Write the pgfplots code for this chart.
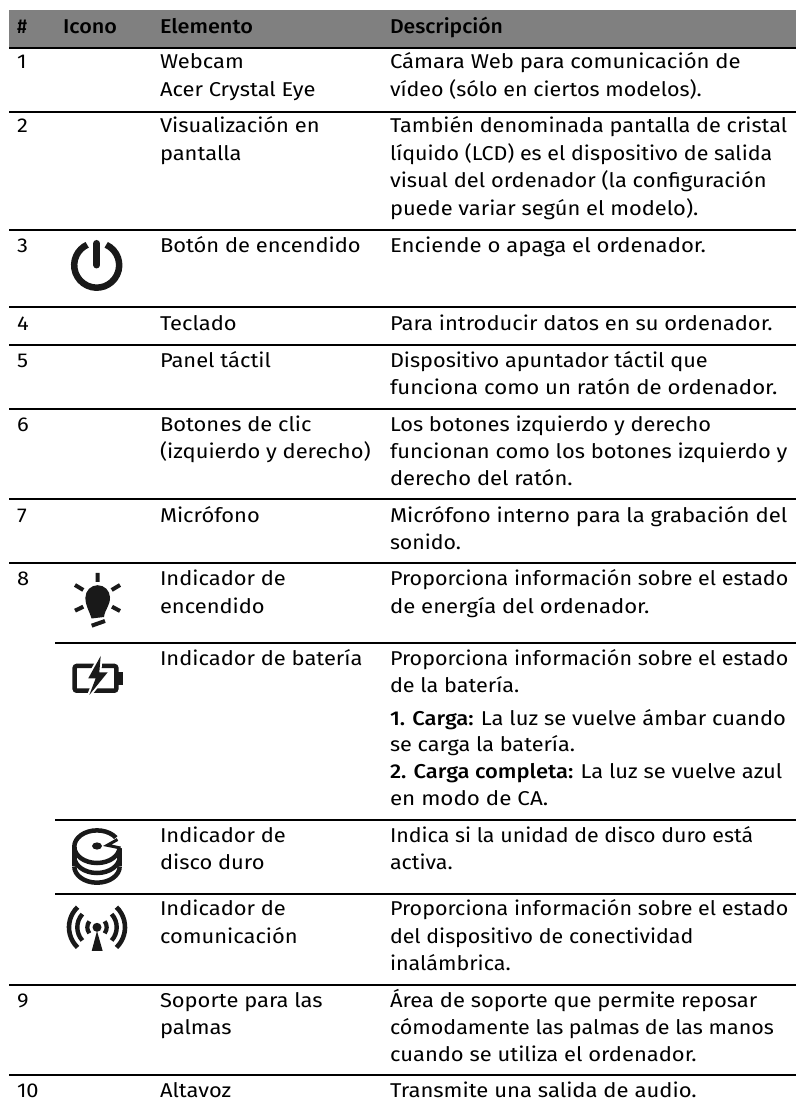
\documentclass[border=0pt]{standalone}
\usepackage{graphicx}
\usepackage{pgfplots}
\pgfplotsset{compat=1.18}
\usepackage{fontspec}
\setmainfont{Fira Sans}[BoldFont={Fira Sans Medium}]
\newcommand\F{\fontsize{20}{27}\selectfont}
\newcommand\T[3]{\node[anchor=base west,inner sep=0pt,outer sep=0pt,text=black] at (axis cs:#1,#2){\scalebox{1.095}[1]{\F #3}};}
\newcommand\W[4]{\node[anchor=base west,inner sep=0pt,outer sep=0pt,text=black] at (axis cs:#1,#3){\resizebox{#2pt}{\height}{\F #4}};}
\newcommand\D[3]{\W{390}{#1}{#2}{#3}}
\begin{document}
\begin{tikzpicture}[x=1pt,y=1pt]
\path[use as bounding box,fill=white] (0,0) rectangle (796,1107);
\begin{axis}[anchor=south west,at={(0,0)},width=796pt,height=1107pt,scale only axis,
 xmin=0,xmax=796,ymin=0,ymax=1107,y dir=reverse,hide axis,clip=false]
\addplot[fill=gray!100!white,draw=none] coordinates {(9,10)(796,10)(796,47)(9,47)} -- cycle;
\addplot[black,line width=1.9pt] coordinates {(9,48)(796,48)};
\addplot[black,line width=1.9pt] coordinates {(9,112)(796,112)};
\addplot[black,line width=1.9pt] coordinates {(9,229.7)(796,229.7)};
\addplot[black,line width=1.9pt] coordinates {(9,306.7)(796,306.7)};
\addplot[black,line width=1.9pt] coordinates {(9,345)(796,345)};
\addplot[black,line width=1.9pt] coordinates {(9,409)(796,409)};
\addplot[black,line width=1.9pt] coordinates {(9,498.7)(796,498.7)};
\addplot[black,line width=1.9pt] coordinates {(9,562.7)(796,562.7)};
\addplot[black,line width=1.9pt] coordinates {(55,643.3)(796,643.3)};
\addplot[black,line width=1.9pt] coordinates {(55,820)(796,820)};
\addplot[black,line width=1.9pt] coordinates {(55,893.7)(796,893.7)};
\addplot[black,line width=1.9pt] coordinates {(9,984.7)(796,984.7)};
\addplot[black,line width=1.9pt] coordinates {(9,1074.7)(796,1074.7)};
% header
\W{17}{10}{34}{\bfseries \#}
\W{63}{54}{34}{\bfseries Icono}
\W{160}{93}{34}{\bfseries Elemento}
\W{390}{113}{34}{\bfseries Descripción}
% numbers
\T{17}{69}{1}\T{17}{133}{2}\T{17}{252}{3}\T{17}{330}{4}\T{17}{367}{5}\T{17}{431}{6}\T{17}{522}{7}\T{17}{585.5}{8}\T{17}{1007}{9}\T{17}{1097}{10}
% elements
\T{160}{69}{Webcam}\T{160}{97}{Acer Crystal Eye}
\T{160}{133}{Visualización en}\T{160}{160.5}{pantalla}
\T{160}{252}{Botón de encendido}
\T{160}{330}{Teclado}
\T{160}{367}{Panel táctil}
\T{160}{431}{Botones de clic}\T{160}{458.5}{(izquierdo y derecho)}
\T{160}{522}{Micrófono}
\T{160}{585.5}{Indicador de}\T{160}{613}{encendido}
\T{160}{665}{Indicador de batería}
\T{160}{842}{Indicador de}\T{160}{869}{disco duro}
\T{160}{915}{Indicador de}\T{160}{943}{comunicación}
\T{160}{1007}{Soporte para las}\T{160}{1034}{palmas}
\T{160}{1097}{Altavoz}
% descriptions
\D{350.7}{69}{Cámara Web para comunicación de}\D{311.7}{97}{vídeo (sólo en ciertos modelos).}
\D{397.3}{133}{También denominada pantalla de cristal}\D{382.3}{160.5}{líquido (LCD) es el dispositivo de salida}\D{376.7}{188}{visual del ordenador (la configuración}\D{308.3}{215}{puede variar según el modelo).}
\D{316}{252}{Enciende o apaga el ordenador.}
\D{382.7}{330}{Para introducir datos en su ordenador.}
\D{317.7}{367}{Dispositivo apuntador táctil que}\D{387.3}{394}{funciona como un ratón de ordenador.}
\D{321}{431}{Los botones izquierdo y derecho}\D{397.3}{458.5}{funcionan como los botones izquierdo y}\D{182.7}{485.5}{derecho del ratón.}
\D{397.3}{522}{Micrófono interno para la grabación del}\D{71}{549}{sonido.}
\D{398.3}{585.5}{Proporciona información sobre el estado}\D{259.3}{613}{de energía del ordenador.}
\D{398.3}{665}{Proporciona información sobre el estado}\D{129.3}{692.5}{de la batería.}
\D{396}{725}{\bfseries 1. Carga: \mdseries La luz se vuelve ámbar cuando}\D{185}{751.7}{se carga la batería.}
\D{392.3}{778}{\bfseries 2. Carga completa: \mdseries La luz se vuelve azul}\D{158.3}{805}{en modo de CA.}
\D{363.3}{842}{Indica si la unidad de disco duro está}\D{62.7}{869}{activa.}
\D{398.3}{915}{Proporciona información sobre el estado}\D{303.3}{943}{del dispositivo de conectividad}\D{120.7}{970}{inalámbrica.}
\D{367.3}{1007}{Área de soporte que permite reposar}\D{384}{1034}{cómodamente las palmas de las manos}\D{306.7}{1061}{cuando se utiliza el ordenador.}
\D{306.7}{1097}{Transmite una salida de audio.}
\end{axis}
% icons, y measured downward from the top of the page
\begin{scope}[shift={(0,1107)},black!90]
% power
\draw[line width=6.5pt] (96.7+9.5,-265.2+20.4) arc[start angle=65,end angle=-245,radius=22.5];
\draw[line width=7pt,line cap=round] (96.7,-243.5) -- (96.7,-265);
% bulb
\draw[line width=4pt] (97.7,-573)--(97.7,-582) (75,-585)--(83.3,-590) (120,-585)--(111.7,-590) (75,-610.7)--(83.3,-606.7) (120,-611)--(112,-606.7);
\draw[line width=4pt] (91.7,-625.7)--(105,-621);
\fill (91.5,-618.5) -- (104,-617) .. controls (105,-609) and (110,-606) .. (110,-597.5) arc[start angle=0,end angle=180,radius=12.3] .. controls (85.4,-606) and (89,-610) .. cycle;
% battery
\draw[line width=4.5pt,rounded corners=2pt] (74.7,-666) rectangle (116.3,-690.7);
\fill (117,-671.7) rectangle (122.7,-685);
\fill[white,draw=white,line width=4pt] (100.7,-656)--(88.3,-678.3)--(95.7,-678.3)--(89.3,-695)--(107.7,-672.3)--(99.3,-672.3)--cycle;
\fill (100.7,-656)--(88.3,-678.3)--(95.7,-678.3)--(89.3,-695)--(107.7,-672.3)--(99.3,-672.3)--cycle;
% disk
\draw[line width=4.5pt] (97,-846.7) ellipse[x radius=22.7,y radius=16.3];
\draw[line width=4.5pt] (74.3,-846.7)--(74.3,-866.4) (119.7,-846.7)--(119.7,-866.4);
\draw[line width=4.5pt] (74.3,-856.7) arc[start angle=180,end angle=360,x radius=22.7,y radius=16.3];
\draw[line width=4.5pt] (74.3,-866.4) arc[start angle=180,end angle=360,x radius=22.7,y radius=16.3];
\fill[white] (107.3,-845)--(118,-836)--(124,-839)--(124,-848.6)--cycle;
\draw[line width=3pt,line join=miter] (117.5,-839.5)--(107.3,-845.3)--(120.5,-848);
\fill (97,-846) ellipse[x radius=5,y radius=3.6];
% wireless
\fill (97,-927.3) circle[radius=4.5];
\fill (97,-931)--(91.7,-951)--(102.7,-951)--cycle;
\foreach \r/\a/\w in {9.7/38/4.2,19.7/42/4.4,28/46/4.6}{
 \draw[line width=\w pt] (97,-927.3)++(180-\a:\r) arc[start angle=180-\a,end angle=180+\a,radius=\r];
 \draw[line width=\w pt] (97,-927.3)++(-\a:\r) arc[start angle=-\a,end angle=\a,radius=\r];
}
\end{scope}
\end{tikzpicture}
\end{document}
